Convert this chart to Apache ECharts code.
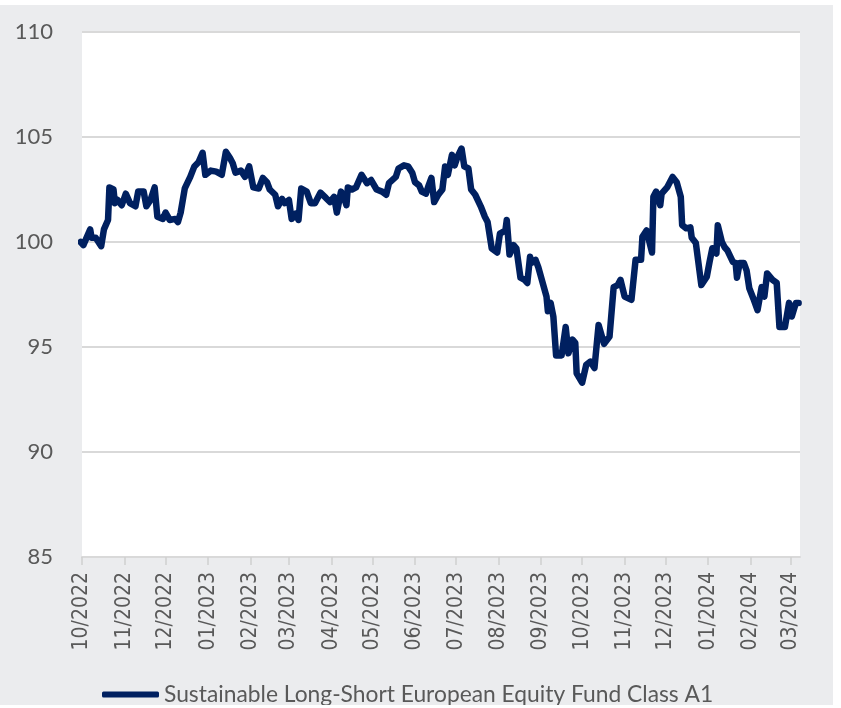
<!DOCTYPE html>
<html>
<head>
<meta charset="utf-8">
<script src="https://cdn.jsdelivr.net/npm/echarts@6/dist/echarts.min.js"></script>
<style>
  html, body { margin: 0; padding: 0; background: #fff; }
  #chart { position: absolute; left: 0; top: 5px; width: 833px; height: 700px; background: #ebecee; }
</style>
</head>
<body>
<div id="chart"></div>
<script>
// fund index
const seriesName = 'Sustainable Long-Short European Equity Fund Class A1'
const dates = [
  '2022-09-30', '2022-10-02', '2022-10-07', '2022-10-08', '2022-10-11', '2022-10-15', '2022-10-17', '2022-10-20',
  '2022-10-21', '2022-10-24', '2022-10-25', '2022-10-27', '2022-10-30',
  '2022-11-02', '2022-11-05', '2022-11-09', '2022-11-11', '2022-11-15', '2022-11-17', '2022-11-20', '2022-11-23',
  '2022-11-25', '2022-11-29',
  '2022-12-01', '2022-12-04', '2022-12-08', '2022-12-10', '2022-12-12', '2022-12-15', '2022-12-19', '2022-12-22',
  '2022-12-25', '2022-12-28', '2022-12-30',
  '2023-01-03', '2023-01-07', '2023-01-11', '2023-01-14', '2023-01-17', '2023-01-19', '2023-01-21', '2023-01-25',
  '2023-01-28', '2023-01-31',
  '2023-02-03', '2023-02-07', '2023-02-10', '2023-02-13', '2023-02-15', '2023-02-19', '2023-02-21', '2023-02-24',
  '2023-02-26',
  '2023-03-01', '2023-03-03', '2023-03-06', '2023-03-08', '2023-03-10', '2023-03-14', '2023-03-17', '2023-03-20',
  '2023-03-24', '2023-03-28', '2023-03-31',
  '2023-04-03', '2023-04-05', '2023-04-08', '2023-04-10', '2023-04-12', '2023-04-13', '2023-04-16', '2023-04-19',
  '2023-04-23', '2023-04-27', '2023-04-30',
  '2023-05-04', '2023-05-08', '2023-05-11', '2023-05-13', '2023-05-18', '2023-05-20', '2023-05-24', '2023-05-27',
  '2023-05-30',
  '2023-06-01', '2023-06-04', '2023-06-06', '2023-06-09', '2023-06-11', '2023-06-13', '2023-06-15', '2023-06-18',
  '2023-06-21', '2023-06-23', '2023-06-25', '2023-06-28', '2023-06-30',
  '2023-07-02', '2023-07-05', '2023-07-07', '2023-07-10', '2023-07-12', '2023-07-15', '2023-07-19', '2023-07-22',
  '2023-07-24', '2023-07-27', '2023-07-31',
  '2023-08-02', '2023-08-06', '2023-08-07', '2023-08-09', '2023-08-12', '2023-08-14', '2023-08-17', '2023-08-20',
  '2023-08-22', '2023-08-24', '2023-08-25', '2023-08-28', '2023-08-30',
  '2023-09-05', '2023-09-06', '2023-09-08', '2023-09-10', '2023-09-12', '2023-09-16', '2023-09-19', '2023-09-21',
  '2023-09-24', '2023-09-26', '2023-09-27',
  '2023-10-01', '2023-10-04', '2023-10-07', '2023-10-10', '2023-10-13', '2023-10-17', '2023-10-21', '2023-10-24',
  '2023-10-27', '2023-10-29',
  '2023-11-01', '2023-11-06', '2023-11-09', '2023-11-13', '2023-11-14', '2023-11-17', '2023-11-21', '2023-11-22',
  '2023-11-24', '2023-11-27', '2023-11-28',
  '2023-12-02', '2023-12-06', '2023-12-09', '2023-12-12', '2023-12-13', '2023-12-16', '2023-12-19', '2023-12-20',
  '2023-12-23', '2023-12-27', '2023-12-31',
  '2024-01-02', '2024-01-04', '2024-01-07', '2024-01-08', '2024-01-11', '2024-01-13', '2024-01-15', '2024-01-19',
  '2024-01-21', '2024-01-22', '2024-01-24', '2024-01-27', '2024-01-29', '2024-01-31',
  '2024-02-03', '2024-02-06', '2024-02-09', '2024-02-11', '2024-02-13', '2024-02-17', '2024-02-20', '2024-02-22',
  '2024-02-26', '2024-02-29',
  '2024-03-02', '2024-03-05', '2024-03-07'
]
const values = [
  100.0, 99.85, 100.6, 100.2, 100.2, 99.8, 100.6, 101.05,
  102.6, 102.5, 101.85, 102.0, 101.75,
  102.3, 101.85, 101.7, 102.4, 102.4, 101.7, 102.0, 102.6,
  101.2, 101.1,
  101.4, 101.05, 101.1, 100.95, 101.4, 102.55, 103.1, 103.6,
  103.8, 104.25, 103.2,
  103.4, 103.35, 103.2, 104.3, 104.0, 103.75, 103.3, 103.4,
  103.1, 103.6,
  102.6, 102.55, 103.05, 102.85, 102.5, 102.25, 101.7, 102.05,
  101.85,
  102.0, 101.1, 101.35, 101.05, 102.55, 102.4, 101.85, 101.85,
  102.35, 102.1, 101.9,
  102.15, 101.4, 102.4, 102.15, 101.75, 102.6, 102.5, 102.6,
  103.2, 102.8, 102.95,
  102.5, 102.4, 102.25, 102.8, 103.1, 103.5, 103.65, 103.6,
  103.3,
  102.85, 102.7, 102.4, 102.3, 102.7, 103.05, 101.9, 102.25,
  102.5, 103.6, 103.2, 104.15, 103.65,
  104.05, 104.45, 103.6, 103.5, 102.5, 102.25, 101.7, 101.2,
  100.95, 99.7, 99.5,
  100.4, 100.55, 101.05, 99.4, 99.85, 99.7, 98.3, 98.2,
  98.05, 99.3, 99.0, 99.15, 98.8,
  97.4, 96.7, 97.1, 96.45, 94.6, 94.6, 95.95, 94.7,
  95.35, 95.2, 93.75,
  93.3, 94.15, 94.3, 94.0, 96.05, 95.15, 95.5, 97.85,
  97.95, 98.2,
  97.4, 97.25, 99.15, 99.15, 100.25, 100.55, 99.5, 102.15,
  102.4, 101.75, 102.3,
  102.6, 103.1, 102.85, 102.15, 100.8, 100.65, 100.7, 100.2,
  99.95, 97.95, 98.35,
  99.05, 99.7, 99.45, 100.8, 100.0, 99.75, 99.6, 99.05,
  99.0, 98.3, 99.0, 99.0, 98.65, 97.8,
  97.3, 96.75, 97.85, 97.4, 98.5, 98.2, 98.05, 95.95,
  95.95, 97.1,
  96.45, 97.1, 97.1
]
const yMin = 85
const yMax = 110
const yStep = 5

const textGrey = '#595959'
const lineBlue = '#002060'

const chart = echarts.init(document.getElementById('chart'))
chart.setOption({
  backgroundColor: '#ebecee',
  animation: false,
  grid: {
    left: 82,
    right: 33,
    top: 27,
    bottom: 148,
    show: true,
    backgroundColor: '#ffffff',
    borderWidth: 0
  },
  legend: {
    data: [seriesName],
    left: 97,
    top: 673,
    icon: 'roundRect',
    itemWidth: 57,
    itemHeight: 6,
    textStyle: {
      fontFamily: 'Lato',
      fontSize: 22.8,
      color: textGrey
    }
  },
  xAxis: {
    type: 'time',
    min: '2022-10-01',
    max: '2024-03-08',
    splitNumber: 17,
    minInterval: 28 * 24 * 3600 * 1000,
    maxInterval: 31 * 24 * 3600 * 1000,
    axisLine: { show: true, lineStyle: { color: '#d9d9d9', width: 2 } },
    axisTick: { show: true, length: 8, lineStyle: { color: '#d0d0d0', width: 1.5 } },
    splitLine: { show: false },
    axisLabel: {
      formatter: '{MM}/{yyyy}',
      rotate: 90,
      margin: 15,
      showMaxLabel: false,
      hideOverlap: false,
      fontFamily: 'DejaVu Sans Condensed',
      fontSize: 21,
      color: textGrey
    }
  },
  yAxis: {
    type: 'value',
    min: yMin,
    max: yMax,
    interval: yStep,
    axisLine: { show: false },
    axisTick: { show: false },
    splitLine: { show: true, lineStyle: { color: '#d9d9d9', width: 2 } },
    axisLabel: {
      margin: 29,
      padding: [0, 0, 9, 0],
      fontFamily: 'Lato',
      fontSize: 22,
      color: textGrey
    }
  },
  series: [
    {
      name: seriesName,
      type: 'line',
      data: dates.map((d, i) => [d, values[i]]),
      showSymbol: false,
      color: lineBlue,
      lineStyle: { color: lineBlue, width: 6.5, join: 'round', cap: 'round' }
    }
  ]
})
</script>
</body>
</html>
